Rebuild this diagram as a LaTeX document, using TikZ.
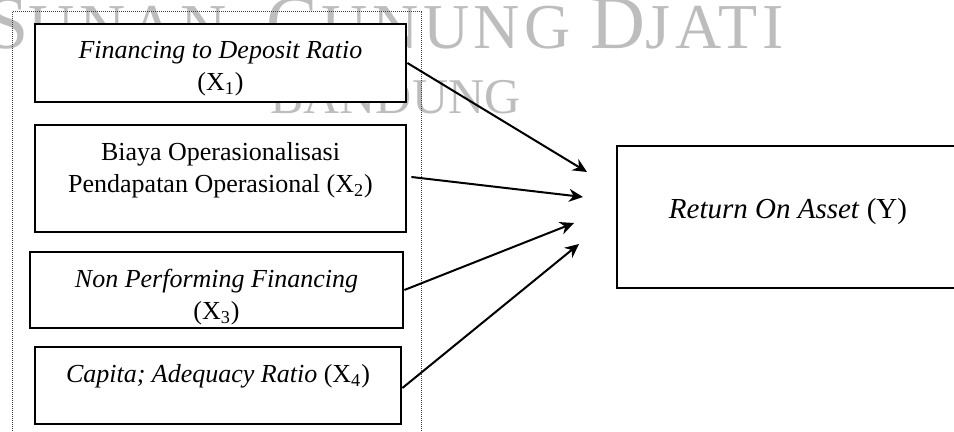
\documentclass[tikz,border=0pt]{standalone}
\usepackage{fontspec}
\setmainfont{Liberation Serif}
\newfontfamily\wmfont[LetterSpace=7]{Liberation Serif}
\usepackage{tikz}
\usetikzlibrary{arrows.meta,positioning}
\definecolor{Ink}{HTML}{000000}
\definecolor{Mark}{HTML}{BDBDBD}
\newcommand\wmbig[1]{{\fontsize{38}{38}\selectfont #1}}
\newcommand\wmsmall[1]{{\wmfont\fontsize{32}{32}\selectfont #1}}

\begin{document}
\begin{tikzpicture}[x=0.5pt,y=-0.5pt,
  var/.style={draw=Ink,fill=white,line width=1.4pt,inner sep=0pt},
  txt/.style={font=\fontsize{13}{16}\selectfont,align=center,text=Ink,inner sep=0pt},
  arrow/.style={-{Stealth[length=7pt,width=6.5pt]},line width=1pt,color=Ink},
  wmark/.style={text=Mark,inner sep=0pt,anchor=base west}
]
\useasboundingbox (0,0) rectangle (954,432);
\clip (0,0) rectangle (954,432);
% watermark
\node[wmark] (wm) at (-14,49) {\wmbig{S}\wmsmall{UNAN}\hspace{20pt}\wmbig{G}\wmsmall{UNUNG}\hspace{10pt}\wmbig{D}\wmsmall{JATI}};
\node[wmark] (wm2) at (270,114) {\fontsize{25}{25}\selectfont BANDUNG};
% group of variables
\draw[Ink!75,line width=0.5pt,dash pattern=on 0.5pt off 0.5pt] (12,12) rectangle (421,450);
\node[var,minimum width=185.5pt,minimum height=39pt] (x1) at (220.5,63) {};
\node[var,minimum width=185.5pt,minimum height=53.5pt] (x2) at (220.5,178.5) {};
\node[var,minimum width=186.5pt,minimum height=38pt] (x3) at (216.5,290) {};
\node[var,minimum width=183pt,minimum height=38.5pt] (x4) at (218,385.5) {};
\node[var,minimum width=171pt,minimum height=71pt] (y) at (788,217) {};
\node[txt] (x1t) at ([yshift=-3pt]x1.center) {\textit{Financing to Deposit Ratio}\\(X\textsubscript{1})};
\node[txt] (x2t) at ([yshift=4pt]x2.center) {Biaya Operasionalisasi\\Pendapatan Operasional (X\textsubscript{2})};
\node[txt] (x3t) at ([yshift=-3.5pt]x3.center) {\textit{Non Performing Financing}\\(X\textsubscript{3})};
\node[txt] (x4t) at ([yshift=4.5pt]x4.center) {\textit{Capita; Adequacy Ratio} (X\textsubscript{4})};
\node[txt,font=\fontsize{14.5}{17}\selectfont] (yt) at ([yshift=2.5pt]y.center) {\textit{Return On Asset} (Y)};
% arrow tips
\coordinate (t1) at (587,172);
\coordinate (t2) at (583,197);
\coordinate (t3) at (574,223);
\coordinate (t4) at (579,244);
\draw[arrow] (x1.east)--(t1);
\draw[arrow] ([xshift=2pt,yshift=0.75pt]x2.east)--(t2);
\draw[arrow] (x3.east)--(t3);
\draw[arrow] ([yshift=-1.25pt]x4.east)--(t4);
\end{tikzpicture}
\end{document}
